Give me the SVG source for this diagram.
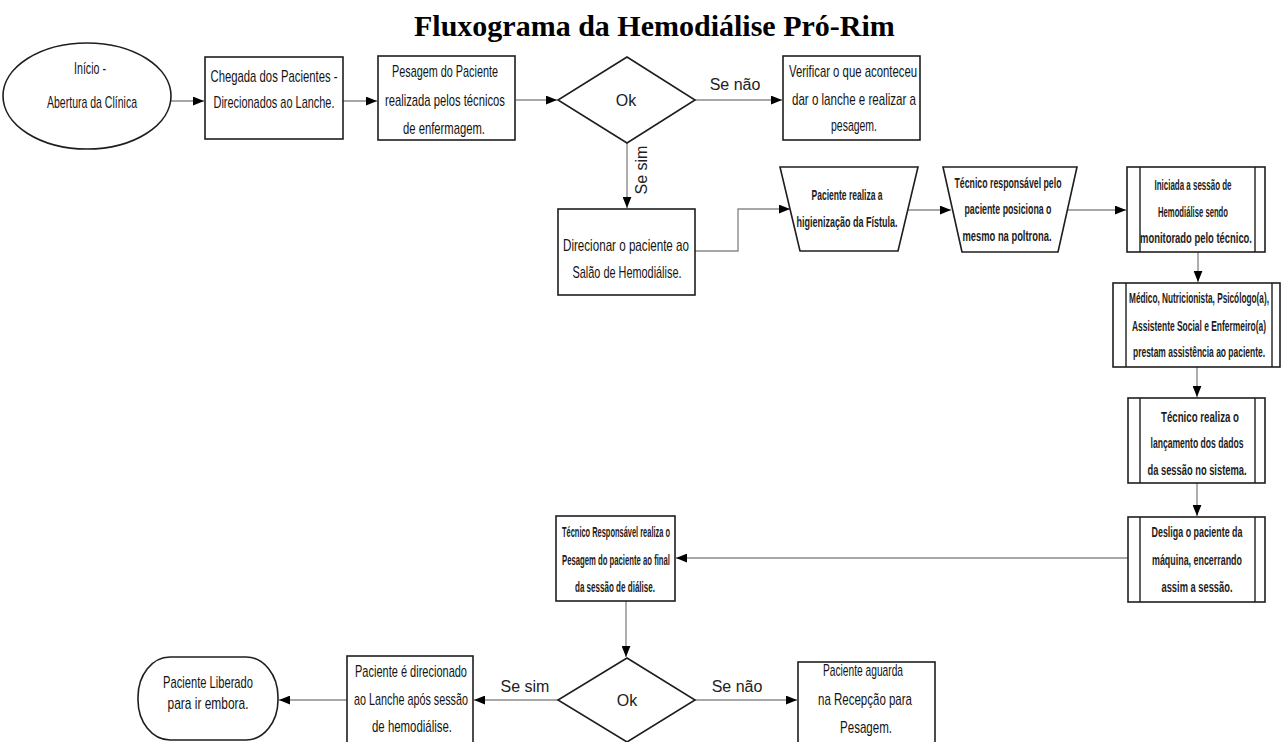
<svg xmlns="http://www.w3.org/2000/svg" width="1282" height="742" viewBox="0 0 1282 742">
  <style>
    .shape { fill: #ffffff; stroke: #1e1e1e; stroke-width: 1.6; }
    .inner { fill: none; stroke: #1e1e1e; stroke-width: 1.4; }
    .conn { fill: none; stroke: #8a8a8a; stroke-width: 1.4; }
    .t { font-family: "Liberation Sans", Arial, sans-serif; font-size: 17px; fill: #141414; text-anchor: middle; }
    .s { font-size: 15px; font-weight: bold; fill: #1c1c1c; }
    .lbl { font-family: "Liberation Sans", Arial, sans-serif; font-size: 16px; fill: #222222; text-anchor: middle; }
    .title { font-family: "Liberation Serif", "Times New Roman", serif; font-size: 30px; font-weight: bold; fill: #000000; }
  </style>
  <defs>
    <marker id="ah" viewBox="0 0 10 8" refX="10" refY="4" markerWidth="11" markerHeight="9" markerUnits="userSpaceOnUse" orient="auto">
      <path d="M0,0 L10,4 L0,8 Z" fill="#000000"/>
    </marker>
  </defs>

  <rect width="1282" height="742" fill="#ffffff"/>

  <text class="title" x="414" y="36">Fluxograma da Hemodiálise Pró-Rim</text>

  <!-- connectors -->
  <g id="connectors">
    <line class="conn" x1="171" y1="101" x2="204" y2="101" marker-end="url(#ah)"/>
    <line class="conn" x1="343" y1="101" x2="377" y2="101" marker-end="url(#ah)"/>
    <line class="conn" x1="516" y1="100" x2="557" y2="100" marker-end="url(#ah)"/>
    <line class="conn" x1="695" y1="100" x2="782" y2="100" marker-end="url(#ah)"/>
    <line class="conn" x1="627" y1="143" x2="627" y2="208" marker-end="url(#ah)"/>
    <polyline class="conn" points="695,251 738,251 738,209 790,209" marker-end="url(#ah)"/>
    <line class="conn" x1="908" y1="210" x2="951" y2="210" marker-end="url(#ah)"/>
    <line class="conn" x1="1068" y1="210" x2="1126" y2="210" marker-end="url(#ah)"/>
    <line class="conn" x1="1198" y1="252" x2="1198" y2="282" marker-end="url(#ah)"/>
    <line class="conn" x1="1197" y1="367" x2="1197" y2="397" marker-end="url(#ah)"/>
    <line class="conn" x1="1197" y1="483" x2="1197" y2="516" marker-end="url(#ah)"/>
    <line class="conn" x1="1128" y1="558" x2="676" y2="558" marker-end="url(#ah)"/>
    <line class="conn" x1="626" y1="601" x2="626" y2="657" marker-end="url(#ah)"/>
    <line class="conn" x1="695" y1="700" x2="797" y2="700" marker-end="url(#ah)"/>
    <line class="conn" x1="558" y1="700" x2="474" y2="700" marker-end="url(#ah)"/>
    <line class="conn" x1="347" y1="700" x2="279" y2="700" marker-end="url(#ah)"/>
    <text class="lbl" x="735" y="90">Se não</text>
    <text class="lbl" transform="translate(647,170) rotate(-90)" x="0" y="0">Se sim</text>
    <text class="lbl" x="737" y="692">Se não</text>
    <text class="lbl" x="525" y="692">Se sim</text>
  </g>

  <!-- start -->
  <g id="inicio">
    <ellipse class="shape" cx="87" cy="96" rx="84" ry="53"/>
    <text class="t"><tspan x="90" y="74" textLength="32" lengthAdjust="spacingAndGlyphs">Início -</tspan><tspan x="92" y="108" textLength="90" lengthAdjust="spacingAndGlyphs">Abertura da Clínica</tspan></text>
  </g>

  <g id="chegada">
    <rect class="shape" x="205" y="57" width="138" height="82"/>
    <text class="t"><tspan x="274" y="82" textLength="127" lengthAdjust="spacingAndGlyphs">Chegada dos Pacientes -</tspan><tspan x="274" y="108" textLength="121" lengthAdjust="spacingAndGlyphs">Direcionados ao Lanche.</tspan></text>
  </g>

  <g id="pesagem">
    <rect class="shape" x="378" y="56" width="137" height="84"/>
    <text class="t"><tspan x="445" y="77" textLength="106" lengthAdjust="spacingAndGlyphs">Pesagem do Paciente</tspan><tspan x="445" y="106" textLength="120" lengthAdjust="spacingAndGlyphs">realizada pelos técnicos</tspan><tspan x="444" y="134" textLength="82" lengthAdjust="spacingAndGlyphs">de enfermagem.</tspan></text>
  </g>

  <g id="decisao1">
    <polygon class="shape" points="627,57 695,100 627,143 558,100"/>
    <text class="lbl" x="626" y="106">Ok</text>
  </g>

  <g id="verificar">
    <rect class="shape" x="783" y="56" width="137" height="84"/>
    <text class="t"><tspan x="853" y="77" textLength="128" lengthAdjust="spacingAndGlyphs">Verificar o que aconteceu</tspan><tspan x="854" y="105" textLength="124" lengthAdjust="spacingAndGlyphs">dar o lanche e realizar a</tspan><tspan x="854" y="131" textLength="46" lengthAdjust="spacingAndGlyphs">pesagem.</tspan></text>
  </g>

  <g id="direcionar">
    <rect class="shape" x="558" y="209" width="137" height="86"/>
    <text class="t"><tspan x="626" y="251" textLength="126" lengthAdjust="spacingAndGlyphs">Direcionar o paciente ao</tspan><tspan x="627" y="278" textLength="109" lengthAdjust="spacingAndGlyphs">Salão de Hemodiálise.</tspan></text>
  </g>

  <g id="higienizacao">
    <polygon class="shape" points="780,167 918,167 898,251 800,251"/>
    <text class="t s"><tspan x="847" y="200" textLength="71" lengthAdjust="spacingAndGlyphs">Paciente realiza a</tspan><tspan x="847" y="227" textLength="101" lengthAdjust="spacingAndGlyphs">higienização da Fístula.</tspan></text>
  </g>

  <g id="poltrona">
    <polygon class="shape" points="943,167 1077,167 1058,252 962,252"/>
    <text class="t s"><tspan x="1008" y="188" textLength="107" lengthAdjust="spacingAndGlyphs">Técnico responsável pelo</tspan><tspan x="1008" y="214" textLength="87" lengthAdjust="spacingAndGlyphs">paciente posiciona o</tspan><tspan x="1007" y="241" textLength="89" lengthAdjust="spacingAndGlyphs">mesmo na poltrona.</tspan></text>
  </g>

  <g id="sessao">
    <rect class="shape" x="1127" y="167" width="138" height="85"/>
    <line class="inner" x1="1140" y1="167" x2="1140" y2="252"/>
    <line class="inner" x1="1255" y1="167" x2="1255" y2="252"/>
    <text class="t s"><tspan x="1193" y="190" textLength="77" lengthAdjust="spacingAndGlyphs">Iniciada a sessão de</tspan><tspan x="1193" y="217" textLength="70" lengthAdjust="spacingAndGlyphs">Hemodiálise sendo</tspan><tspan x="1196" y="243" textLength="112" lengthAdjust="spacingAndGlyphs">monitorado pelo técnico.</tspan></text>
  </g>

  <g id="equipe">
    <rect class="shape" x="1113" y="283" width="167" height="84"/>
    <line class="inner" x1="1126" y1="283" x2="1126" y2="367"/>
    <line class="inner" x1="1272" y1="283" x2="1272" y2="367"/>
    <text class="t s"><tspan x="1199" y="303" textLength="140" lengthAdjust="spacingAndGlyphs">Médico, Nutricionista, Psicólogo(a),</tspan><tspan x="1199" y="331" textLength="134" lengthAdjust="spacingAndGlyphs">Assistente Social e Enfermeiro(a)</tspan><tspan x="1199" y="357" textLength="132" lengthAdjust="spacingAndGlyphs">prestam assistência ao paciente.</tspan></text>
  </g>

  <g id="lancamento">
    <rect class="shape" x="1128" y="398" width="137" height="85"/>
    <line class="inner" x1="1140" y1="398" x2="1140" y2="483"/>
    <line class="inner" x1="1255" y1="398" x2="1255" y2="483"/>
    <text class="t s"><tspan x="1200" y="422" textLength="78" lengthAdjust="spacingAndGlyphs">Técnico realiza o</tspan><tspan x="1197" y="448" textLength="93" lengthAdjust="spacingAndGlyphs">lançamento dos dados</tspan><tspan x="1197" y="475" textLength="99" lengthAdjust="spacingAndGlyphs">da sessão no sistema.</tspan></text>
  </g>

  <g id="desliga">
    <rect class="shape" x="1128" y="517" width="137" height="85"/>
    <line class="inner" x1="1140" y1="517" x2="1140" y2="602"/>
    <line class="inner" x1="1255" y1="517" x2="1255" y2="602"/>
    <text class="t s"><tspan x="1197" y="537" textLength="91" lengthAdjust="spacingAndGlyphs">Desliga o paciente da</tspan><tspan x="1197" y="565" textLength="90" lengthAdjust="spacingAndGlyphs">máquina, encerrando</tspan><tspan x="1197" y="592" textLength="71" lengthAdjust="spacingAndGlyphs">assim a sessão.</tspan></text>
  </g>

  <g id="pesagem-final">
    <rect class="shape" x="556" y="516" width="119" height="85"/>
    <text class="t s"><tspan x="616" y="537" textLength="108" lengthAdjust="spacingAndGlyphs">Técnico Responsável realiza o</tspan><tspan x="616" y="565" textLength="108" lengthAdjust="spacingAndGlyphs">Pesagem do paciente ao final</tspan><tspan x="615" y="592" textLength="80" lengthAdjust="spacingAndGlyphs">da sessão de diálise.</tspan></text>
  </g>

  <g id="decisao2">
    <polygon class="shape" points="627,658 695,700 627,742 558,700"/>
    <text class="lbl" x="627" y="706">Ok</text>
  </g>

  <g id="recepcao">
    <rect class="shape" x="798" y="662" width="137" height="90"/>
    <text class="t"><tspan x="863" y="676" textLength="80" lengthAdjust="spacingAndGlyphs">Paciente aguarda</tspan><tspan x="865" y="705" textLength="94" lengthAdjust="spacingAndGlyphs">na Recepção para</tspan><tspan x="866" y="733" textLength="52" lengthAdjust="spacingAndGlyphs">Pesagem.</tspan></text>
  </g>

  <g id="lanche-final">
    <rect class="shape" x="347" y="656" width="126" height="96"/>
    <text class="t"><tspan x="411" y="677" textLength="112" lengthAdjust="spacingAndGlyphs">Paciente é direcionado</tspan><tspan x="411" y="705" textLength="114" lengthAdjust="spacingAndGlyphs">ao Lanche após sessão</tspan><tspan x="412" y="732" textLength="80" lengthAdjust="spacingAndGlyphs">de hemodiálise.</tspan></text>
  </g>

  <g id="liberado">
    <rect class="shape" x="138" y="657" width="140" height="83" rx="32" ry="40"/>
    <text class="t"><tspan x="208" y="688" textLength="90" lengthAdjust="spacingAndGlyphs">Paciente Liberado</tspan><tspan x="208" y="709" textLength="81" lengthAdjust="spacingAndGlyphs">para ir embora.</tspan></text>
  </g>
</svg>
